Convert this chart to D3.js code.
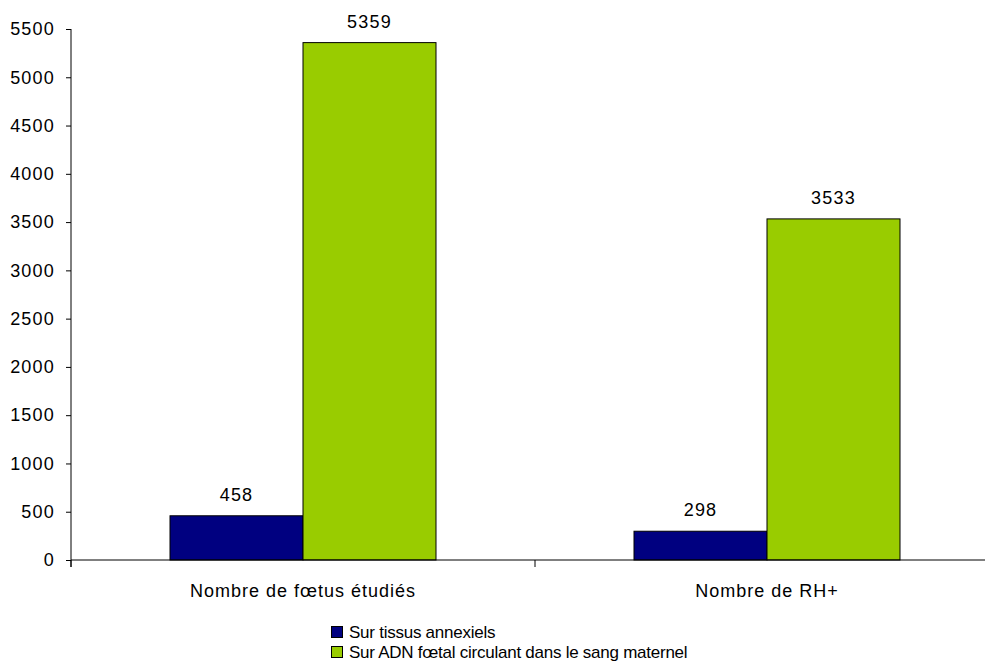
<!DOCTYPE html>
<html><head><meta charset="utf-8">
<script src="https://cdn.jsdelivr.net/npm/d3@7"></script>
<style>body{margin:0;background:#fff}svg{display:block}text{font-family:"Liberation Sans",Arial,sans-serif;fill:#000}</style>
</head><body><svg id="c" width="985" height="666"></svg>
<script>
const categories = ["Nombre de fœtus étudiés", "Nombre de RH+"];
const seriesNames = ["Sur tissus annexiels", "Sur ADN fœtal circulant dans le sang maternel"];
const tissus = [458, 298];
const adn = [5359, 3533];
const yTicks = [0, 500, 1000, 1500, 2000, 2500, 3000, 3500, 4000, 4500, 5000, 5500];
const colors = ["#000080", "#99cc00"];

const svg = d3.select("#c");
const x0 = 71, x1 = 999, yTop = 29, yBot = 560;
const x = d3.scaleBand().domain(categories).range([x0, x1]);
const y = d3.scaleLinear().domain([0, 5500]).range([yBot, yTop]);
const barW = 133;

const series = [tissus, adn];
series.forEach((vals, si) => {
  svg.selectAll(null).data(categories).enter().append("rect")
    .attr("x", (c) => x(c) + x.bandwidth()/2 - barW + si*barW)
    .attr("y", (c, i) => y(vals[i]))
    .attr("width", barW)
    .attr("height", (c, i) => yBot - y(vals[i]))
    .attr("fill", colors[si]).attr("stroke", "#000").attr("stroke-width", 1);
  svg.selectAll(null).data(categories).enter().append("text")
    .attr("x", (c) => x(c) + x.bandwidth()/2 - barW/2 + si*barW)
    .attr("y", (c, i) => y(vals[i]) - 15)
    .attr("text-anchor", "middle").attr("font-size", 18).attr("letter-spacing", 1.2)
    .text((c, i) => vals[i]);
});

const yAxis = d3.axisLeft(y).tickValues(yTicks).tickFormat(d3.format("d")).tickSize(5).tickPadding(11);
const gy = svg.append("g").attr("transform", `translate(${x0},0)`).call(yAxis);
gy.select(".domain").remove();
gy.append("line").attr("x1",0).attr("x2",0).attr("y1",yTop).attr("y2",yBot+7).attr("stroke","#000");
gy.selectAll("text").attr("font-size", 18).attr("letter-spacing", 1.2).attr("font-family", "Liberation Sans, Arial, sans-serif").attr("fill","#000");
gy.selectAll(".tick line").attr("stroke","#000");

// x axis
svg.append("line").attr("x1", x0).attr("x2", x1).attr("y1", yBot).attr("y2", yBot).attr("stroke", "#000");
const bounds = [x0, ...categories.map(c => x(c) + x.bandwidth())];
svg.selectAll(null).data(bounds).enter().append("line")
  .attr("x1", d => d).attr("x2", d => d).attr("y1", yBot).attr("y2", yBot + 7).attr("stroke", "#000");
svg.selectAll(null).data(categories).enter().append("text")
  .attr("x", c => x(c) + x.bandwidth()/2).attr("y", 597)
  .attr("text-anchor", "middle").attr("font-size", 18).attr("letter-spacing", 1).text(c => c);

// legend
const lg = svg.append("g");
seriesNames.forEach((n, i) => {
  lg.append("rect").attr("x", 331.5).attr("y", 626.5 + i*20).attr("width", 11).attr("height", 11)
    .attr("fill", colors[i]).attr("stroke", "#000");
  lg.append("text").attr("x", 349).attr("y", 638 + i*20).attr("font-size", 17).attr("letter-spacing", -0.25).text(n);
});
</script></body></html>
